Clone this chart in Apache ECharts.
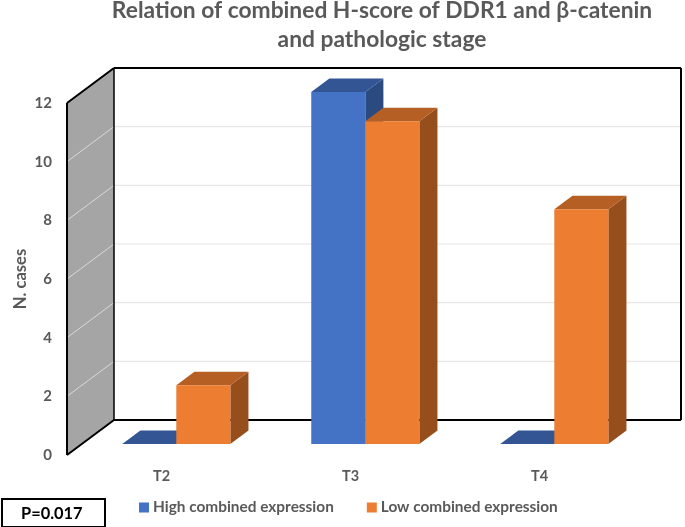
<!DOCTYPE html>
<html><head><meta charset="utf-8">
<style>html,body{margin:0;padding:0;background:#fff}#c{width:685px;height:527px}</style>
<script src="https://cdn.jsdelivr.net/npm/echarts@6/dist/echarts.min.js"></script>
</head><body><div id="c"></div>
<script>
const categories = ['T2','T3','T4'];
const highValues = [0,12,0];
const lowValues = [2,11,8];
const yTicks = [0,2,4,6,8,10,12];
const titleText = 'Relation of combined H-score of DDR1 and β-catenin\nand pathologic stage';
const pValue = 'P=0.017';

const DX = 47, DY = -35;          // full depth of the box
const D0 = 0.315, D1 = 0.70;      // bar depth span as a fraction of it
const BAR = 0.286;                // bar width as a share of the band

const chart = echarts.init(document.getElementById('c'));

function poly(pts, fill, z2) {
  return {type:'polygon', z2:z2||0, shape:{points:pts}, style:{fill:fill, stroke:null}};
}
function seg(a, b, color, w, z2) {
  return {type:'line', z2:z2||0, shape:{x1:a[0],y1:a[1],x2:b[0],y2:b[1]}, style:{stroke:color, lineWidth:w}};
}
function rightEdge(params){ return params.coordSys.x + params.coordSys.width; }

function renderWall(params, api) {
  const v = api.value(0);
  const p = api.coord([0, v]);
  const x0 = params.coordSys.x, xr = rightEdge(params);
  const y = p[1];
  const kids = [];
  if (params.dataIndex === 0) {
    const top = api.coord([0, 12])[1];
    kids.push(poly([[x0,top],[x0+DX,top+DY],[x0+DX,y+DY],[x0,y]], '#A5A5A5', 0));
  }
  if (v !== 0 && v !== 12) {
    kids.push(seg([x0,y],[x0+DX,y+DY],'#D9D9D9',1,1));
    kids.push(seg([x0+DX,y+DY],[xr+DX,y+DY],'#E6E6E6',1.2,1));
  }
  if (v === 0) {
    kids.push(seg([x0,y],[x0+DX,y+DY],'#000',2,3));
    kids.push(seg([x0+DX,y+DY],[xr+DX,y+DY],'#000',2,3));
    const top = api.coord([0, 12])[1];
    kids.push(seg([x0,y],[x0,top],'#000',2,3));
    kids.push(seg([x0+DX,y+DY],[x0+DX,top+DY],'#000',1.5,3));
    kids.push(seg([xr+DX,y+DY],[xr+DX,top+DY],'#000',2,3));
  }
  if (v === 12) {
    kids.push(seg([x0,y],[x0+DX,y+DY],'#000',2,3));
    kids.push(seg([x0+DX,y+DY],[xr+DX,y+DY],'#000',2,3));
  }
  return {type:'group', children:kids};
}

function barRenderer(side, front, topC, sideC) {
  return function (params, api) {
    const cat = api.value(0), val = api.value(1);
    const base = api.coord([cat, 0]);
    const head = api.coord([cat, val]);
    const w = api.size([1,0])[0] * BAR;
    const ox = DX*D0, oy = DY*D0, bx = DX*(D1-D0), by = DY*(D1-D0);
    const xl = base[0] + ox + (side < 0 ? -w : 0), xr = xl + w;
    const yb = base[1] + oy, yt = head[1] + oy;
    return {type:'group', children:[
      poly([[xr,yt],[xr+bx,yt+by],[xr+bx,yb+by],[xr,yb]], sideC),
      poly([[xl,yt],[xr,yt],[xr+bx,yt+by],[xl+bx,yt+by]], topC),
      poly([[xl,yt],[xr,yt],[xr,yb],[xl,yb]], front)
    ]};
  };
}

const grey = '#595959', font = 'Lato';
chart.setOption({
  animation:false,
  backgroundColor:'#fff',
  textStyle:{fontFamily:font},
  title:{text:titleText, left:377, top:-9, textAlign:'center',
    textStyle:{fontFamily:font,fontSize:22.8,fontWeight:'bold',color:grey,lineHeight:29}},
  legend:{left:134, top:495, itemWidth:10, itemHeight:10, itemGap:33, icon:'rect',
    data:['High combined expression','Low combined expression'],
    textStyle:{fontFamily:font,fontSize:15.4,fontWeight:'bold',color:grey,padding:[0,0,0,-1]}},
  grid:{left:67, right:51, top:103, height:352, containLabel:false, outerBoundsMode:'none'},
  xAxis:{type:'category', data:categories, axisLine:{show:false}, axisTick:{show:false}, splitLine:{show:false},
    axisLabel:{margin:14, fontFamily:font, fontSize:14.5, fontWeight:'bold', color:grey}},
  yAxis:{type:'value', min:0, max:12, interval:2, axisLine:{show:false}, axisTick:{show:false}, splitLine:{show:false},
    name:'N. cases', nameLocation:'middle', nameGap:38, nameMoveOverlap:false,
    nameTextStyle:{fontFamily:font,fontSize:16.5,fontWeight:'bold',color:grey},
    axisLabel:{margin:15, fontFamily:font, fontSize:15, fontWeight:'bold', color:grey}},
  graphic:[
    {type:'rect', left:1, top:498, shape:{width:103,height:28}, style:{fill:'#fff',stroke:'#000',lineWidth:2}},
    {type:'text', left:21, top:506, style:{text:pValue, fill:'#000', font:'bold 16.4px Lato'}}
  ],
  series:[
    {type:'custom', name:'walls', silent:true, clip:false, z:1, renderItem:renderWall,
      data:yTicks.map(v=>[v]), encode:{y:0}},
    {type:'custom', name:'High combined expression', clip:false, z:2, itemStyle:{color:'#4472C4'},
      renderItem:barRenderer(-1,'#4472C4','#335593','#2B4A80'),
      data:highValues.map((v,i)=>[i,v]), encode:{x:0,y:1}},
    {type:'custom', name:'Low combined expression', clip:false, z:3, itemStyle:{color:'#ED7D31'},
      renderItem:barRenderer(1,'#ED7D31','#B55F24','#964F1C'),
      data:lowValues.map((v,i)=>[i,v]), encode:{x:0,y:1}}
  ]
});
</script></body></html>
